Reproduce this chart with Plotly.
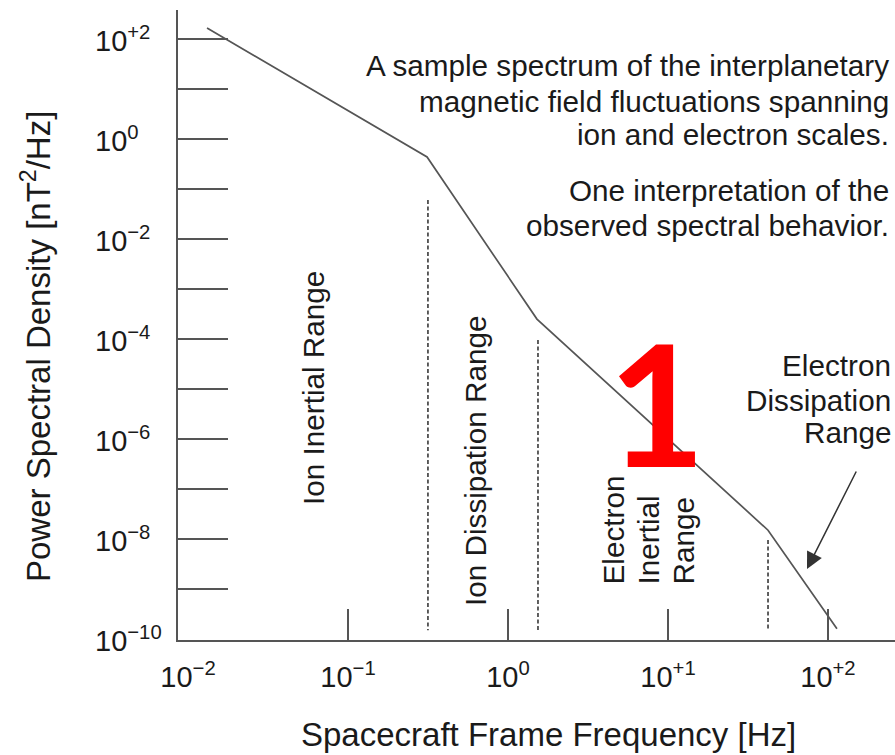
import plotly.graph_objects as go

# Schematic broken power-law spectrum of interplanetary magnetic field fluctuations
freq_hz = [0.01315, 0.312, 1.517, 42.2, 113.8]
psd_nt2_hz = [166.0, 0.437, 2.5e-4, 1.5e-8, 1.6e-10]

# Spectral break frequencies (dashed separators) and the PSD span of each marker
break_freq_hz = [0.316, 1.54, 42.2]
break_psd_top = [0.06, 9.5e-5, 9.5e-9]
break_psd_bottom = [1.5e-10, 1.5e-10, 1.5e-10]

# Decade ticks
x_tick_exp = [-2, -1, 0, 1, 2]
x_tick_text = ["10<sup>−2</sup>", "10<sup>−1</sup>", "10<sup>0</sup>",
               "10<sup>+1</sup>", "10<sup>+2</sup>"]
y_tick_exp = list(range(-10, 3))
y_label_exp = [2, 0, -2, -4, -6, -8, -10]
y_label_text = ["10<sup>+2</sup>", "10<sup>0</sup>", "10<sup>−2</sup>",
                "10<sup>−4</sup>", "10<sup>−6</sup>", "10<sup>−8</sup>",
                "10<sup>−10</sup>"]

W, H = 895, 755
L, R, T, B = 178, 0, 10, 115
PW, PH = W - L - R, H - T - B

FONT = "Liberation Sans, Arial, sans-serif"
INK = "#1a1a1a"
LINE = "#555555"


def px(x, y):
    """Pixel position in the page -> paper coordinates."""
    return (x - L) / PW, (H - B - y) / PH


fig = go.Figure()

fig.add_trace(go.Scatter(
    x=freq_hz, y=psd_nt2_hz, mode="lines",
    line=dict(color=LINE, width=1.7), hoverinfo="skip"))

for f, top, bot in zip(break_freq_hz, break_psd_top, break_psd_bottom):
    fig.add_trace(go.Scatter(
        x=[f, f], y=[top, bot], mode="lines",
        line=dict(color="#444444", width=1.7, dash="4px,2.5px"), hoverinfo="skip"))

annotations = []

# y tick labels, left aligned in a column
lx, _ = px(93, 0)
for e, t in zip(y_label_exp, y_label_text):
    annotations.append(dict(
        x=lx, xref="paper", y=e, yref="y", text=t, showarrow=False,
        xanchor="left", yanchor="middle", font=dict(size=29, color=INK)))


def text_at(x, y, s, size=29.7, anchor="center", angle=0, color=INK, family=FONT):
    ax_, ay_ = px(x, y)
    annotations.append(dict(
        x=ax_, y=ay_, xref="paper", yref="paper", text=s, showarrow=False,
        xanchor=anchor, yanchor="middle", textangle=angle,
        font=dict(size=size, color=color, family=family)))


# Axis titles
text_at(548, 734, "Spacecraft Frame Frequency [Hz]", size=33)
text_at(36, 347, "Power Spectral Density [nT<sup>2</sup>/Hz]", size=33, angle=-90)

# Descriptive text block
for yy, s in [(65, "A sample spectrum of the interplanetary"),
              (101, "magnetic field fluctuations spanning"),
              (135, "ion and electron scales."),
              (190, "One interpretation of the"),
              (225, "observed spectral behavior.")]:
    text_at(891, yy, s, anchor="right")

# Range labels
text_at(313, 388, "Ion Inertial Range", angle=-90)
text_at(475, 461, "Ion Dissipation Range", angle=-90)
for xx, s in [(613, "Electron"), (648, "Inertial"), (683, "Range")]:
    ax_, ay_ = px(xx, 587)
    annotations.append(dict(
        x=ax_, y=ay_, xref="paper", yref="paper", text=s, showarrow=False,
        xanchor="center", yanchor="bottom", textangle=-90,
        font=dict(size=29.7, color=INK, family=FONT)))
for yy, s in [(365, "Electron"), (400, "Dissipation"), (432, "Range")]:
    text_at(893, yy, s, anchor="right")

# Arrow pointing at the electron dissipation range
hx, hy = px(807, 569)
annotations.append(dict(
    x=hx, y=hy, xref="paper", yref="paper", ax=50, ay=-99,
    axref="pixel", ayref="pixel", text="", showarrow=True,
    arrowhead=2, arrowsize=2.2, arrowwidth=1.5, arrowcolor="#333333"))

# Panel number
text_at(656, 402, "<b>1</b>", size=168, color="#ff0000",
        family="Lato, DejaVu Sans, sans-serif")

fig.update_layout(
    width=W, height=H,
    margin=dict(l=L, r=R, t=T, b=B, pad=0),
    paper_bgcolor="white", plot_bgcolor="white",
    showlegend=False,
    font=dict(family=FONT, color=INK, size=29),
    annotations=annotations,
)

fig.update_xaxes(
    type="log", range=[-2.0625, 2.419],
    showgrid=False, zeroline=False,
    showline=True, linecolor=LINE, linewidth=2,
    tickvals=[10.0 ** e for e in x_tick_exp], ticktext=x_tick_text,
    ticks="", tickfont=dict(size=29, color=INK),
    minor=dict(tickvals=[10.0 ** e for e in x_tick_exp[1:]], ticks="inside",
               ticklen=31, tickwidth=2, tickcolor=LINE, showgrid=False),
    ticklabelstandoff=10,
)

fig.update_yaxes(
    type="log", range=[-10.02, 2.58],
    showgrid=False, zeroline=False,
    showline=True, linecolor=LINE, linewidth=2,
    tickvals=[10.0 ** e for e in y_tick_exp], ticks="inside",
    ticklen=50, tickwidth=2, tickcolor=LINE,
    showticklabels=False,
)

fig.write_html("out.html")
